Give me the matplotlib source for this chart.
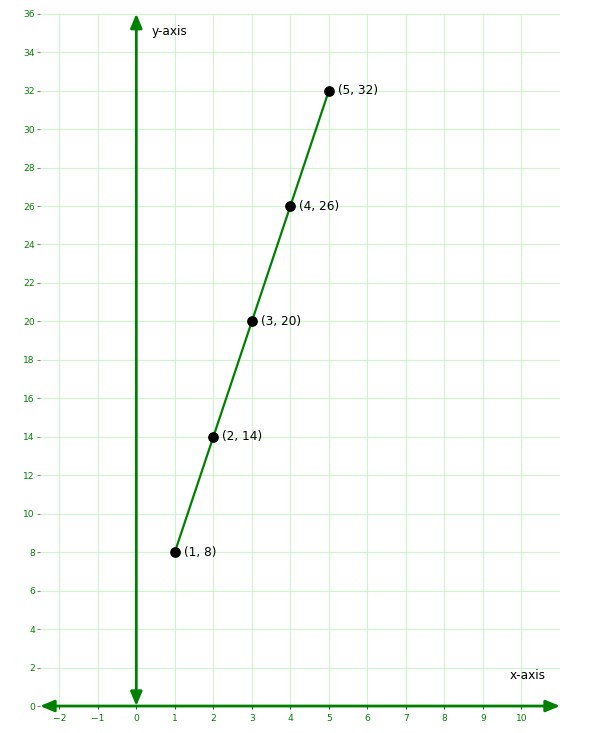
import matplotlib
matplotlib.use("Agg")
import matplotlib.pyplot as plt

x_vals = [1, 2, 3, 4, 5]
y_vals = [8, 14, 20, 26, 32]
x_ticks = list(range(-2, 11))
y_ticks = list(range(0, 37, 2))

fig = plt.figure(figsize=(6, 7.33), dpi=100)
ax = fig.add_axes([0.0667, 0.0368, 0.8666, 0.9445])
ax.set_xlim(-2.5, 11)
ax.set_ylim(0, 36)

for s in ax.spines.values():
    s.set_visible(False)

ax.set_xticks(x_ticks)
ax.set_yticks(y_ticks)
ax.grid(True, color='#ccf5cc', linewidth=0.8)
ax.tick_params(axis='both', colors='green', labelsize=6.6, length=2.2, pad=1.5)
ax.tick_params(axis='x', length=2.5, pad=3)
ax.tick_params(axis='y', color='gray')

arrow_style = '<|-|>,head_length=0.6,head_width=0.25'
# axes arrows
ax.annotate('', xy=(11, 0), xytext=(-2.5, 0),
            arrowprops=dict(arrowstyle=arrow_style, color='green', lw=2,
                            mutation_scale=14, shrinkA=0, shrinkB=0),
            annotation_clip=False)
ax.annotate('', xy=(0, 36), xytext=(0, 0),
            arrowprops=dict(arrowstyle=arrow_style, color='green', lw=2,
                            mutation_scale=14, shrinkA=0, shrinkB=0),
            annotation_clip=False)

ax.plot(x_vals, y_vals, color='green', lw=1.6, zorder=3)
ax.scatter(x_vals, y_vals, color='black', s=45, zorder=4)
for xv, yv in zip(x_vals, y_vals):
    ax.annotate(f'({xv}, {yv})', (xv, yv), xytext=(6.5, 0), textcoords='offset points',
                va='center', ha='left', fontsize=8.7)

ax.text(0.4, 35.1, 'y-axis', fontsize=8.7, va='center', ha='left')
ax.text(9.7, 1.6, 'x-axis', fontsize=8.7, va='center', ha='left')

fig.savefig('out.png', dpi=100)
